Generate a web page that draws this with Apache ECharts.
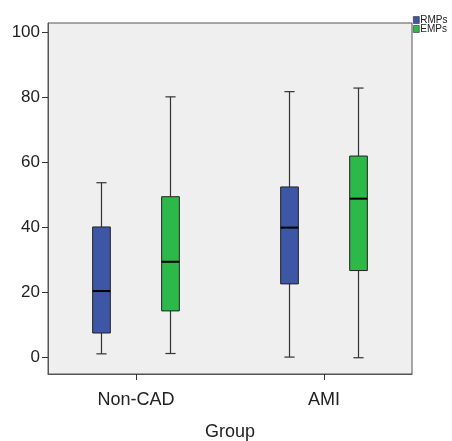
<!DOCTYPE html>
<html>
<head>
<meta charset="utf-8">
<script src="https://cdn.jsdelivr.net/npm/echarts@6/dist/echarts.min.js"></script>
<style>
  html, body { margin: 0; padding: 0; background: #fff; }
  #chart { width: 452px; height: 441px; }
</style>
</head>
<body>
<div id="chart"></div>
<script>
const groups = ["Non-CAD", "AMI"];
// min, q1, median, q3, max
const rmpsStats = [
  [1.2, 7.6, 20.5, 40.2, 53.8],
  [0.2, 22.7, 40.0, 52.5, 81.8],
];
const empsStats = [
  [1.3, 14.4, 29.5, 49.5, 80.2],
  [0.0, 26.8, 48.9, 62.0, 82.9],
];
const yTicks = [0, 20, 40, 60, 80, 100];

const font = "'Liberation Sans', Arial, sans-serif";

function toData(stats) {
  return stats.map((s, i) => [i].concat(s));
}

// draws one box with whiskers, offset from the group tick
function boxRenderer(offset, color) {
  return function (params, api) {
    const x = api.value(0);
    const unit = api.size([1, 0])[0];
    const cx = api.coord([x, 0])[0] + offset * unit;
    const half = 0.047 * unit;
    const cap = 0.027 * unit;
    const y = (i) => api.coord([x, api.value(i)])[1];
    const yMin = y(1), q1 = y(2), med = y(3), q3 = y(4), yMax = y(5);
    const wStyle = { stroke: "#333", lineWidth: 1.2 };
    return {
      type: "group",
      children: [
        { type: "line", shape: { x1: cx, y1: yMax, x2: cx, y2: q3 }, style: wStyle },
        { type: "line", shape: { x1: cx, y1: q1, x2: cx, y2: yMin }, style: wStyle },
        { type: "line", shape: { x1: cx - cap, y1: yMax, x2: cx + cap, y2: yMax }, style: wStyle },
        { type: "line", shape: { x1: cx - cap, y1: yMin, x2: cx + cap, y2: yMin }, style: wStyle },
        {
          type: "rect",
          shape: { x: cx - half, y: q3, width: half * 2, height: q1 - q3 },
          style: { fill: color, stroke: "#222", lineWidth: 1 },
        },
        { type: "line", shape: { x1: cx - half, y1: med, x2: cx + half, y2: med }, style: { stroke: "#000", lineWidth: 2 } },
      ],
    };
  };
}

const chart = echarts.init(document.getElementById("chart"));
chart.setOption({
  backgroundColor: "#fff",
  textStyle: { fontFamily: font },
  grid: {
    left: 48, right: 40, top: 23, bottom: 67,
    outerBoundsMode: "none",
    show: true, backgroundColor: "#efefef", borderColor: "#555", borderWidth: 1,
  },
  legend: {
    data: ["RMPs", "EMPs"],
    orient: "vertical",
    left: 413, top: 15, padding: 0,
    itemWidth: 6, itemHeight: 7, itemGap: -1,
    icon: "rect",
    itemStyle: { borderColor: "#333", borderWidth: 0.6 },
    textStyle: { fontSize: 10, color: "#222", fontFamily: font, padding: [0, 0, 0, -4] },
    selectedMode: false,
  },
  xAxis: {
    type: "value",
    min: -0.468, max: 1.468,
    name: "Group",
    nameLocation: "middle",
    nameGap: 49,
    nameTextStyle: { fontSize: 18, color: "#222" },
    axisLine: { show: true, onZero: false, lineStyle: { color: "#555" } },
    axisTick: { show: true, customValues: [0, 1], length: 6, lineStyle: { color: "#333" } },
    axisLabel: {
      customValues: [0, 1],
      formatter: (v) => groups[v],
      fontSize: 18, color: "#222", margin: 17,
    },
    splitLine: { show: false },
  },
  yAxis: {
    type: "value",
    min: -5.0, max: 102.9,
    axisLine: { show: true, onZero: false, lineStyle: { color: "#555" } },
    axisTick: { show: true, customValues: yTicks, length: 6, lineStyle: { color: "#333" } },
    axisLabel: { customValues: yTicks, fontSize: 17, color: "#222", margin: 8 },
    splitLine: { show: false },
  },
  series: [
    {
      name: "RMPs",
      type: "custom",
      itemStyle: { color: "#3d56a6" },
      encode: { x: 0, y: [1, 2, 3, 4, 5] },
      renderItem: boxRenderer(-0.1835, "#3d56a6"),
      data: toData(rmpsStats),
    },
    {
      name: "EMPs",
      type: "custom",
      itemStyle: { color: "#2db84a" },
      encode: { x: 0, y: [1, 2, 3, 4, 5] },
      renderItem: boxRenderer(0.1835, "#2db84a"),
      data: toData(empsStats),
    },
  ],
});
</script>
</body>
</html>
